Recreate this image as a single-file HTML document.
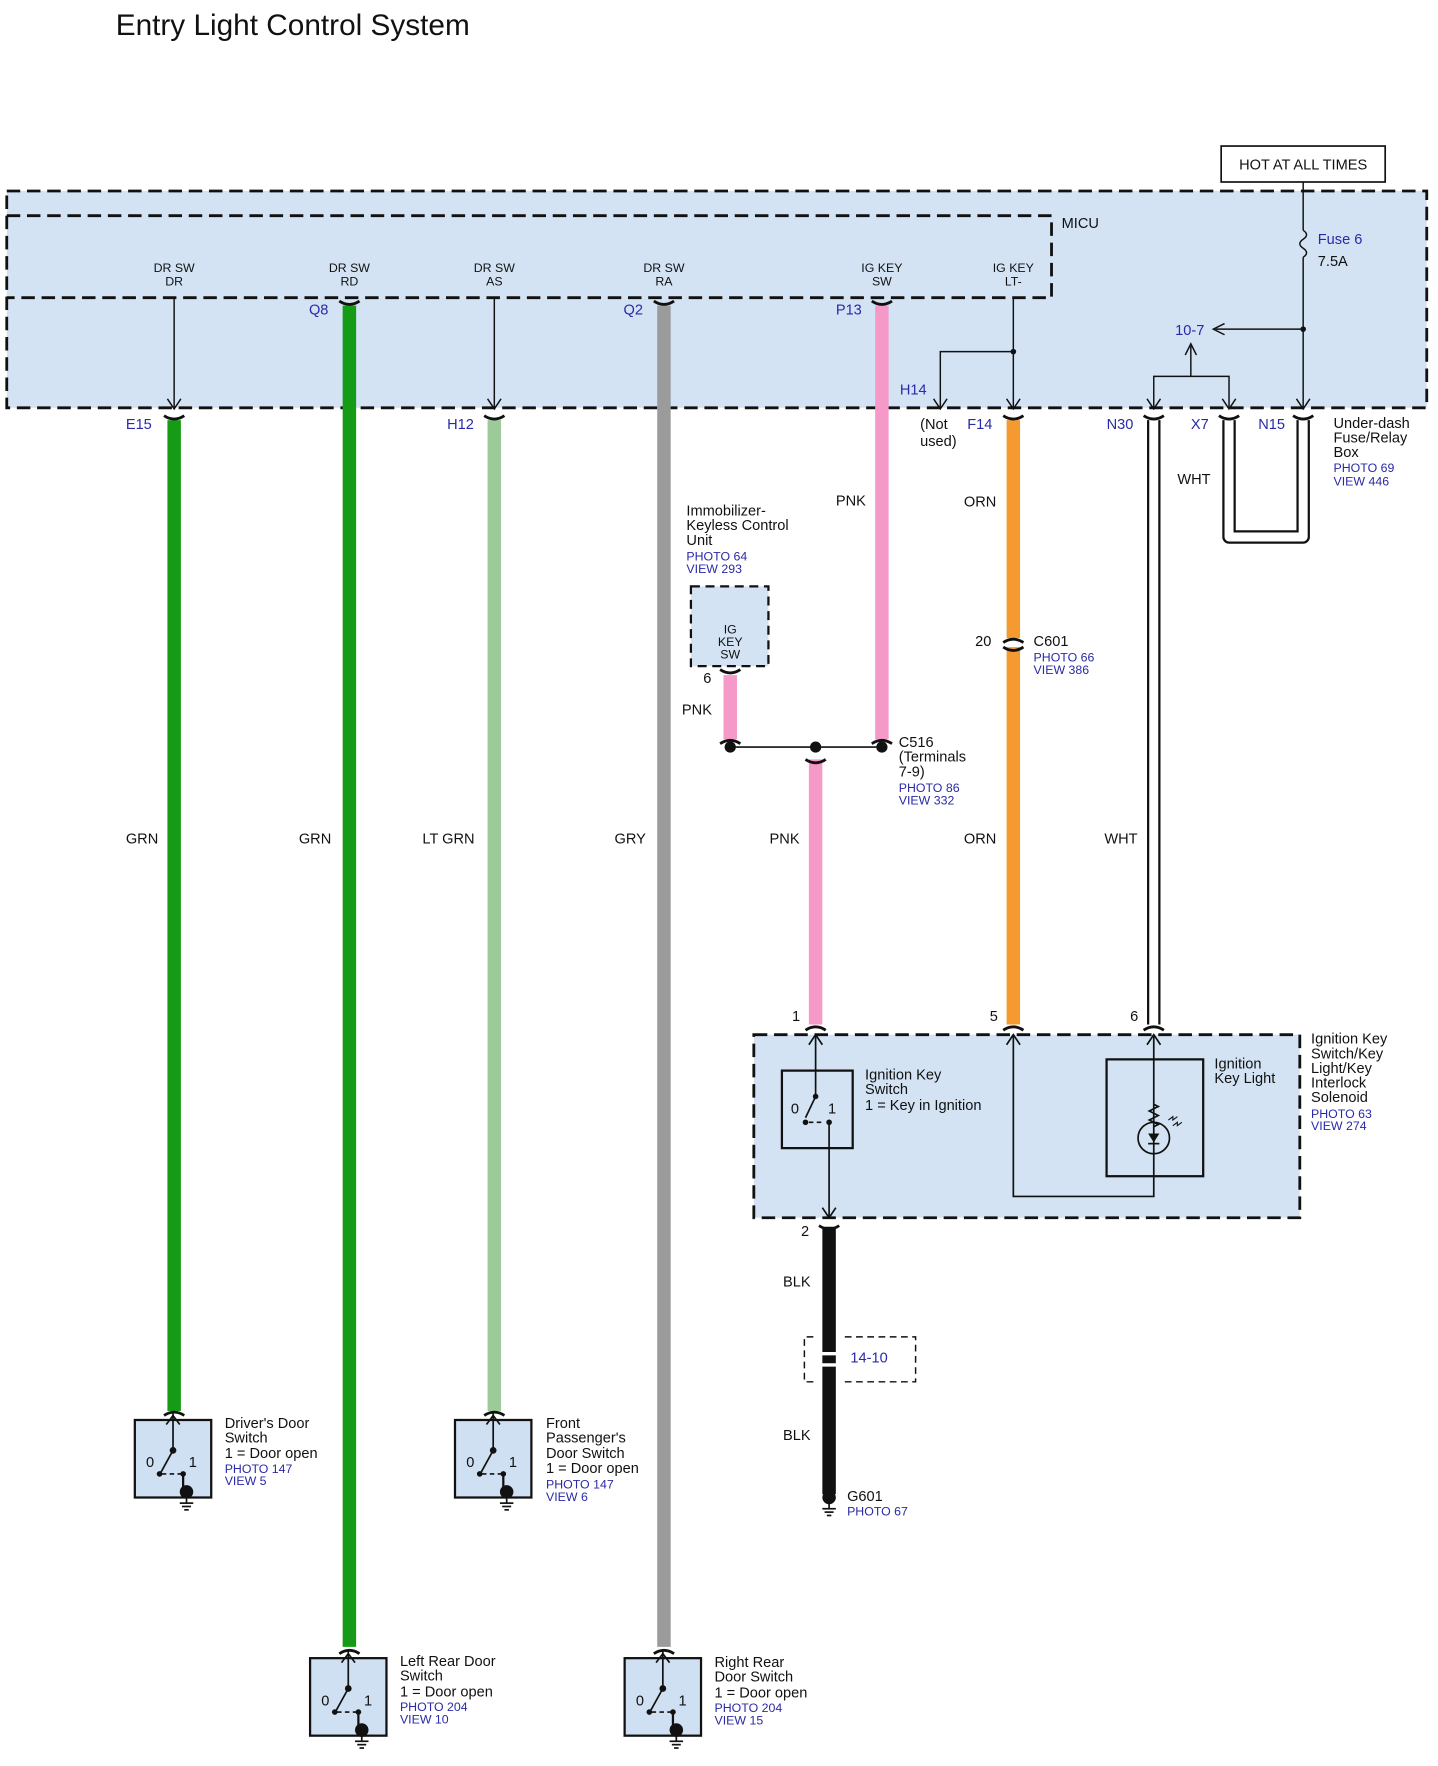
<!DOCTYPE html>
<html><head><meta charset="utf-8"><style>html,body{margin:0;padding:0;background:#fff}svg{display:block}text{font-family:"Liberation Sans",Arial,sans-serif;fill:#111}.b{fill:#2a2aa8}.s{font-size:11px}.m{font-size:13px}</style></head><body>
<svg width="1438" height="1766" viewBox="0 0 1280 1572" xmlns="http://www.w3.org/2000/svg">
<defs>
<g id="sw">
<rect x="0" y="0" width="68" height="69" fill="#cfe0f2" stroke="#111" stroke-width="2"/>
<line x1="34" y1="-6" x2="34" y2="27" stroke="#111" stroke-width="1.5"/>
<path d="M28 4 L34 -4 L40 4" fill="none" stroke="#111" stroke-width="1.5"/>
<circle cx="34" cy="27" r="3" fill="#111"/>
<line x1="34" y1="27" x2="23" y2="47" stroke="#111" stroke-width="1.5"/>
<circle cx="22" cy="48" r="2.5" fill="#111"/>
<circle cx="43" cy="48" r="2.5" fill="#111"/>
<line x1="24" y1="48" x2="42" y2="48" stroke="#111" stroke-width="1.5" stroke-dasharray="4,3"/>
<line x1="43" y1="48" x2="43" y2="62" stroke="#111" stroke-width="2"/>
<circle cx="46" cy="64" r="6" fill="#111"/>
<line x1="46" y1="68" x2="46" y2="74" stroke="#111" stroke-width="1.5"/>
<line x1="40" y1="74" x2="52" y2="74" stroke="#111" stroke-width="1.5"/>
<line x1="42" y1="77" x2="50" y2="77" stroke="#111" stroke-width="1.5"/>
<line x1="44" y1="80" x2="48" y2="80" stroke="#111" stroke-width="1.5"/>
<text x="10" y="42" class="m">0</text><text x="48" y="42" class="m">1</text>
</g>
<g id="cb"><path d="M-9 -4 Q0 2 9 -4" fill="none" stroke="#111" stroke-width="2.5"/></g>
<g id="ct"><path d="M-9 4 Q0 -2 9 4" fill="none" stroke="#111" stroke-width="2.5"/></g>
</defs>

<text x="103" y="31" style="font-size:26.5px">Entry Light Control System</text>

<rect x="1087" y="130" width="146" height="32" fill="#fff" stroke="#111" stroke-width="1.5"/>
<text x="1160" y="151" class="m" text-anchor="middle">HOT AT ALL TIMES</text>

<rect x="6" y="170" width="1264" height="193" fill="#d3e3f4" stroke="#111" stroke-width="2.5" stroke-dasharray="12,6"/>
<polyline points="6,192 936,192 936,265 6,265" fill="none" stroke="#111" stroke-width="2.5" stroke-dasharray="12,6"/>
<text x="945" y="203" class="m">MICU</text>

<g class="s" text-anchor="middle" style="font-size:11px">
<text x="155" y="242">DR SW</text><text x="155" y="254">DR</text>
<text x="311" y="242">DR SW</text><text x="311" y="254">RD</text>
<text x="440" y="242">DR SW</text><text x="440" y="254">AS</text>
<text x="591" y="242">DR SW</text><text x="591" y="254">RA</text>
<text x="785" y="242">IG KEY</text><text x="785" y="254">SW</text>
<text x="902" y="242">IG KEY</text><text x="902" y="254">LT-</text>
</g>

<g stroke="#111" stroke-width="1.3" fill="none">
<line x1="155" y1="265" x2="155" y2="363"/><path d="M149 355 L155 364 L161 355"/>
<line x1="440" y1="265" x2="440" y2="363"/><path d="M434 355 L440 364 L446 355"/>
<line x1="902" y1="265" x2="902" y2="363"/><path d="M896 355 L902 364 L908 355"/>
<polyline points="902,313 837,313 837,363"/><path d="M831 355 L837 364 L843 355"/>
<line x1="1160" y1="162" x2="1160" y2="205"/>
<path d="M1160 205 q6 4 0 8 q-6 4 0 8 q6 4 0 8" />
<line x1="1160" y1="229" x2="1160" y2="363"/><path d="M1154 355 L1160 364 L1166 355"/>
<line x1="1160" y1="293" x2="1082" y2="293"/><path d="M1090 288 L1080 293 L1090 298"/>
<line x1="1060" y1="308" x2="1060" y2="335"/><path d="M1055 316 L1060 306 L1065 316"/>
<polyline points="1027,363 1027,335 1094,335 1094,363"/>
<path d="M1021 355 L1027 364 L1033 355"/><path d="M1088 355 L1094 364 L1100 355"/>
</g>
<circle cx="902" cy="313" r="2.5" fill="#111"/><circle cx="1160" cy="293" r="2.5" fill="#111"/>

<g class="m">
<text x="1173" y="217" class="b">Fuse 6</text><text x="1173" y="237">7.5A</text>
<text x="1046" y="298" class="b">10-7</text>
<text x="801" y="351" class="b">H14</text>
<text x="275" y="280" class="b">Q8</text><text x="555" y="280" class="b">Q2</text><text x="744" y="280" class="b">P13</text>
<text x="112" y="382" class="b">E15</text><text x="398" y="382" class="b">H12</text>
<text x="861" y="382" class="b">F14</text><text x="985" y="382" class="b">N30</text>
<text x="1060" y="382" class="b">X7</text><text x="1120" y="382" class="b">N15</text>
<text x="819" y="382">(Not</text><text x="819" y="397">used)</text>
<text x="1187" y="381">Under-dash</text><text x="1187" y="394">Fuse/Relay</text><text x="1187" y="407">Box</text>
<text x="1187" y="420" class="b s">PHOTO 69</text><text x="1187" y="432" class="b s">VIEW 446</text>
</g>

<g stroke-width="12" fill="none">
<line x1="155" y1="374" x2="155" y2="1256" stroke="#169b16"/>
<line x1="311" y1="272" x2="311" y2="1466" stroke="#169b16"/>
<line x1="440" y1="374" x2="440" y2="1256" stroke="#9cca98"/>
<line x1="591" y1="272" x2="591" y2="1466" stroke="#9b9b9b"/>
<line x1="785" y1="272" x2="785" y2="658" stroke="#f59ac8"/>
<line x1="650" y1="601" x2="650" y2="658" stroke="#f59ac8"/>
<line x1="726" y1="676" x2="726" y2="912" stroke="#f59ac8"/>
<line x1="902" y1="374" x2="902" y2="568" stroke="#f59a30"/>
<line x1="902" y1="576" x2="902" y2="912" stroke="#f59a30"/>
<line x1="738" y1="1092" x2="738" y2="1330" stroke="#111"/>
</g>
<g fill="none">
<line x1="1027" y1="374" x2="1027" y2="912" stroke="#111" stroke-width="12"/>
<line x1="1027" y1="374" x2="1027" y2="912" stroke="#fff" stroke-width="8"/>
<polyline points="1094,374 1094,478 1160,478 1160,374" stroke="#111" stroke-width="12" stroke-linejoin="round"/>
<polyline points="1094,374 1094,478 1160,478 1160,374" stroke="#fff" stroke-width="8" stroke-linejoin="round"/>
</g>

<use href="#cb" x="155" y="374"/><use href="#cb" x="440" y="374"/><use href="#cb" x="902" y="374"/>
<use href="#cb" x="1027" y="374"/><use href="#cb" x="1094" y="374"/><use href="#cb" x="1160" y="374"/>
<use href="#cb" x="311" y="272"/><use href="#cb" x="591" y="272"/><use href="#cb" x="785" y="272"/>
<use href="#ct" x="155" y="1256"/><use href="#ct" x="440" y="1256"/><use href="#ct" x="311" y="1468"/><use href="#ct" x="591" y="1468"/>
<use href="#ct" x="902" y="568"/><use href="#cb" x="902" y="580"/>
<use href="#cb" x="650" y="600"/><use href="#ct" x="650" y="658"/><use href="#ct" x="785" y="658"/><use href="#cb" x="726" y="680"/>
<use href="#ct" x="726" y="913"/><use href="#ct" x="902" y="913"/><use href="#ct" x="1027" y="913"/><use href="#cb" x="738" y="1095"/>
<line x1="650" y1="665" x2="785" y2="665" stroke="#111" stroke-width="1.5"/>
<circle cx="650" cy="665" r="5" fill="#111"/><circle cx="726" cy="665" r="5" fill="#111"/><circle cx="785" cy="665" r="5" fill="#111"/>

<rect x="615" y="522" width="69" height="71" fill="#d3e3f4" stroke="#111" stroke-width="2" stroke-dasharray="8,5"/>
<g style="font-size:11px" text-anchor="middle"><text x="650" y="564">IG</text><text x="650" y="575">KEY</text><text x="650" y="586">SW</text></g>
<g class="m">
<text x="611" y="459">Immobilizer-</text><text x="611" y="472">Keyless Control</text><text x="611" y="485">Unit</text>
<text x="611" y="499" class="b s">PHOTO 64</text><text x="611" y="510" class="b s">VIEW 293</text>
<text x="626" y="608">6</text><text x="607" y="636">PNK</text>
<text x="800" y="665">C516</text><text x="800" y="678">(Terminals</text><text x="800" y="691">7-9)</text>
<text x="800" y="705" class="b s">PHOTO 86</text><text x="800" y="716" class="b s">VIEW 332</text>
<text x="868" y="575">20</text><text x="920" y="575">C601</text>
<text x="920" y="589" class="b s">PHOTO 66</text><text x="920" y="600" class="b s">VIEW 386</text>
<text x="744" y="450">PNK</text><text x="858" y="451">ORN</text><text x="1048" y="431">WHT</text>
<text x="112" y="751">GRN</text><text x="266" y="751">GRN</text><text x="376" y="751">LT GRN</text><text x="547" y="751">GRY</text>
<text x="685" y="751">PNK</text><text x="858" y="751">ORN</text><text x="983" y="751">WHT</text>
<text x="705" y="909">1</text><text x="881" y="909">5</text><text x="1006" y="909">6</text>
<text x="713" y="1100">2</text>
<text x="697" y="1145">BLK</text><text x="697" y="1282">BLK</text>
</g>

<rect x="671" y="921" width="486" height="163" fill="#d3e3f4" stroke="#111" stroke-width="2.5" stroke-dasharray="12,6"/>
<rect x="696" y="953" width="63" height="69" fill="none" stroke="#111" stroke-width="2"/>
<g stroke="#111" stroke-width="1.5" fill="none">
<line x1="726" y1="921" x2="726" y2="976"/><path d="M720 930 L726 921 L732 930"/>
<line x1="726" y1="976" x2="717" y2="995"/>
<line x1="720" y1="999" x2="734" y2="999" stroke-dasharray="4,3"/>
<line x1="738" y1="999" x2="738" y2="1084"/><path d="M732 1075 L738 1084 L744 1075"/>
<polyline points="902,921 902,1065 1027,1065 1027,921"/><path d="M896 930 L902 921 L908 930"/><path d="M1021 930 L1027 921 L1033 930"/>
<path d="M1027 983 l4 2 l-8 4 l8 4 l-8 4 l8 4 l-4 2"/>
<circle cx="1027" cy="1013" r="14"/>
<path d="M1040 997 l4 -3 l0 3 l4 -3 M1044 1002 l4 -3 l0 3 l4 -3" stroke-width="1"/>
</g>
<rect x="985" y="943" width="86" height="104" fill="none" stroke="#111" stroke-width="2"/>
<path d="M1022 1009 L1032 1009 L1027 1017 Z" fill="#111"/><line x1="1022" y1="1018" x2="1032" y2="1018" stroke="#111" stroke-width="1.5"/>
<circle cx="726" cy="976" r="2.5" fill="#111"/><circle cx="717" cy="999" r="2.5" fill="#111"/><circle cx="738" cy="999" r="2.5" fill="#111"/>
<g class="m">
<text x="704" y="991">0</text><text x="737" y="991">1</text>
<text x="770" y="961">Ignition Key</text><text x="770" y="974">Switch</text><text x="770" y="988">1 = Key in Ignition</text>
<text x="1081" y="951">Ignition</text><text x="1081" y="964">Key Light</text>
<text x="1167" y="929">Ignition Key</text><text x="1167" y="942">Switch/Key</text><text x="1167" y="955">Light/Key</text><text x="1167" y="968">Interlock</text><text x="1167" y="981">Solenoid</text>
<text x="1167" y="995" class="b s">PHOTO 63</text><text x="1167" y="1006" class="b s">VIEW 274</text>
</g>

<polyline points="724,1190 716,1190 716,1230 724,1230" fill="none" stroke="#111" stroke-width="1.3" stroke-dasharray="6,4"/>
<polyline points="752,1190 815,1190 815,1230 752,1230" fill="none" stroke="#111" stroke-width="1.3" stroke-dasharray="6,4"/>
<line x1="728" y1="1205" x2="748" y2="1205" stroke="#fff" stroke-width="3"/>
<line x1="728" y1="1215" x2="748" y2="1215" stroke="#fff" stroke-width="3"/>
<text x="757" y="1213" class="m b">14-10</text>

<circle cx="738" cy="1333" r="6" fill="#111"/>
<g stroke="#111" stroke-width="1.5"><line x1="738" y1="1338" x2="738" y2="1343"/><line x1="732" y1="1343" x2="744" y2="1343"/><line x1="734" y1="1346" x2="742" y2="1346"/><line x1="736" y1="1349" x2="740" y2="1349"/></g>
<text x="754" y="1336" class="m">G601</text><text x="754" y="1349" class="b s">PHOTO 67</text>

<use href="#sw" x="120" y="1264"/><use href="#sw" x="405" y="1264"/>
<use href="#sw" x="276" y="1476"/><use href="#sw" x="556" y="1476"/>
<g class="m">
<text x="200" y="1271">Driver's Door</text><text x="200" y="1284">Switch</text><text x="200" y="1298">1 = Door open</text>
<text x="200" y="1311" class="b s">PHOTO 147</text><text x="200" y="1322" class="b s">VIEW 5</text>
<text x="486" y="1271">Front</text><text x="486" y="1284">Passenger's</text><text x="486" y="1298">Door Switch</text><text x="486" y="1311">1 = Door open</text>
<text x="486" y="1325" class="b s">PHOTO 147</text><text x="486" y="1336" class="b s">VIEW 6</text>
<text x="356" y="1483">Left Rear Door</text><text x="356" y="1496">Switch</text><text x="356" y="1510">1 = Door open</text>
<text x="356" y="1523" class="b s">PHOTO 204</text><text x="356" y="1534" class="b s">VIEW 10</text>
<text x="636" y="1484">Right Rear</text><text x="636" y="1497">Door Switch</text><text x="636" y="1511">1 = Door open</text>
<text x="636" y="1524" class="b s">PHOTO 204</text><text x="636" y="1535" class="b s">VIEW 15</text>
</g>
</svg>
</body></html>
